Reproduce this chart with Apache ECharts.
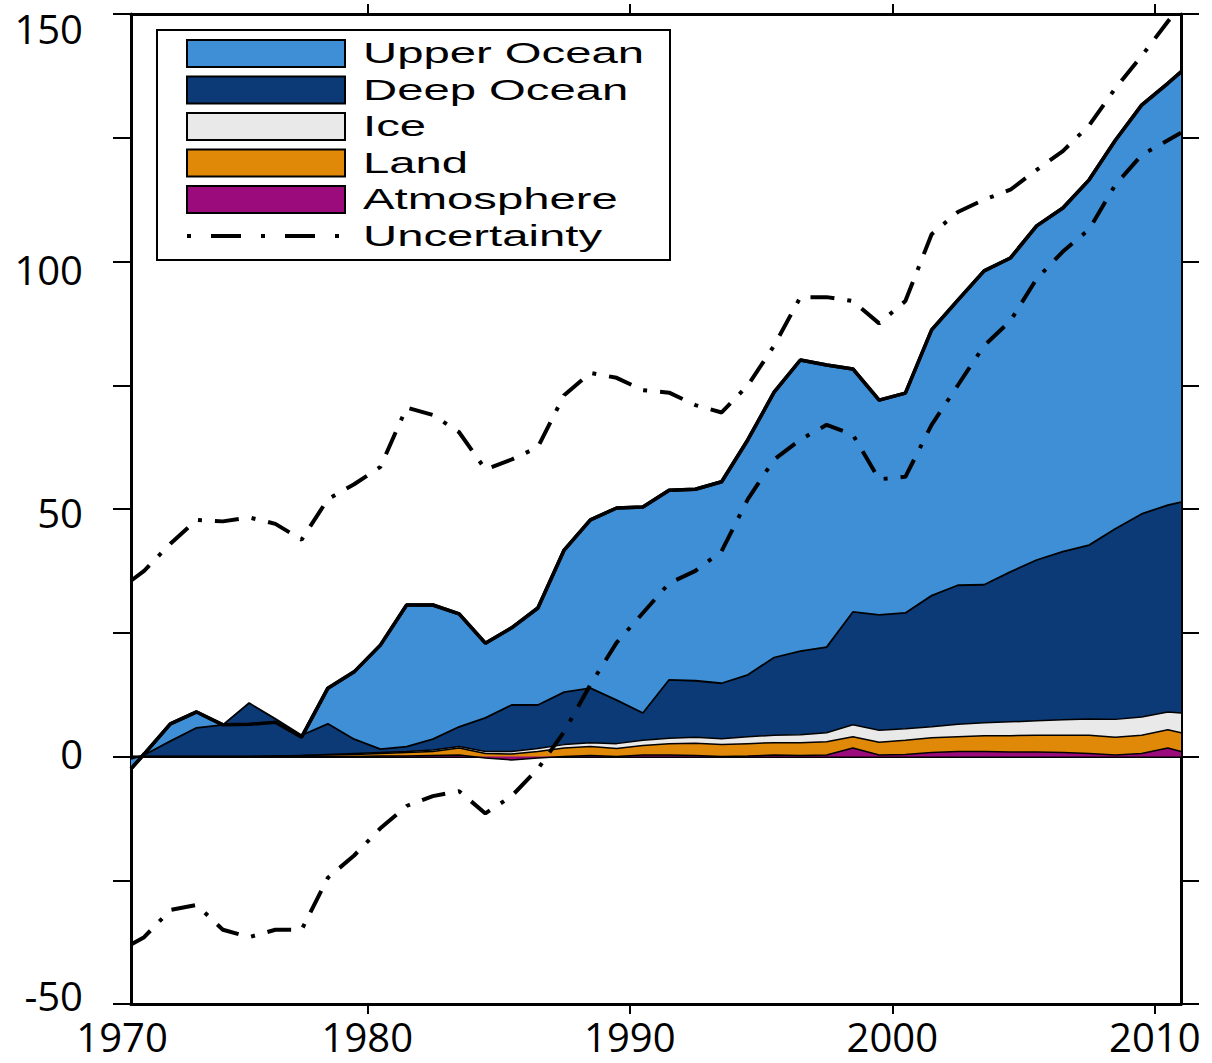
<!DOCTYPE html>
<html>
<head>
<meta charset="utf-8">
<script src="https://cdn.jsdelivr.net/npm/echarts@6/dist/echarts.min.js"></script>
<style>html,body{margin:0;padding:0;background:#fff}#c{width:1212px;height:1063px}</style>
</head>
<body>
<div id="c"></div>
<script>
// x positions (years; points at mid-year, plus both axis edges)
const years = [1971.0,1971.5,1972.5,1973.5,1974.5,1975.5,1976.5,1977.5,1978.5,1979.5,
  1980.5,1981.5,1982.5,1983.5,1984.5,1985.5,1986.5,1987.5,1988.5,1989.5,
  1990.5,1991.5,1992.5,1993.5,1994.5,1995.5,1996.5,1997.5,1998.5,1999.5,
  2000.5,2001.5,2002.5,2003.5,2004.5,2005.5,2006.5,2007.5,2008.5,2009.5,
  2010.5,2011.0];

const atmosphere = [0,0,0,0,0,0,0,0,0,0,
  0.1,0.1,0.2,0.3,-0.3,-0.7,-0.3,0,0.2,0,
  0.3,0.3,0.2,0,0.1,0.3,0.2,0.3,1.7,0.3,
  0.4,0.8,1.0,1.0,0.9,0.9,0.8,0.6,0.3,0.6,
  1.7,1.0];
const land = [0,0,0,0,0,0,0.1,0.2,0.3,0.4,
  0.5,0.7,0.8,1.4,0.9,1.2,1.3,1.7,1.8,1.6,
  1.9,2.3,2.5,2.4,2.5,2.5,2.6,2.7,2.3,2.6,
  2.9,3.0,3.0,3.2,3.3,3.4,3.5,3.7,3.6,3.7,
  3.7,3.8];
const ice = [0,0,0,0,0,0,0,0,0.1,0.2,
  0.2,0.2,0.3,0.3,0.4,0.5,0.6,0.7,0.8,1.0,
  1.1,1.1,1.2,1.2,1.4,1.5,1.6,1.8,2.4,2.4,
  2.3,2.2,2.5,2.6,2.8,2.9,3.1,3.3,3.6,3.7,
  3.6,4.0];
const deepOcean = [-0.5,0.3,3.1,5.8,6.4,10.8,7.5,4.1,6.2,2.9,
  0.7,1.0,2.2,4.0,6.8,9.4,8.8,10.6,11.0,8.8,
  5.5,11.8,11.4,11.2,12.5,15.7,16.9,17.3,22.8,23.3,
  23.4,26.5,28.1,27.9,30.3,32.5,34.0,35.1,38.5,41.0,
  41.8,42.6];
const upperOcean = [-2.0,0.2,3.5,3.2,0.0,-4.3,-0.7,-0.4,7.2,13.6,
  21.0,28.6,27.1,22.8,15.1,15.6,19.6,28.7,34.0,38.8,
  41.6,38.3,38.7,40.7,47.5,53.6,58.8,57.0,49.1,43.4,
  44.4,53.7,57.6,63.4,63.4,67.5,69.4,73.8,78.5,82.6,
  85.2,86.9];
const uncertaintyHigh = [35.5,37.5,43,47.8,47.5,48.3,47,43.8,52,55,
  58.5,70.5,69,65.5,58,60,62.5,73,77.5,76.5,
  74,73.5,71,69.5,75,83,92.8,92.8,92,87.5,
  92,105.5,110,112.5,114.5,118.5,122.3,127.5,135,141.5,
  148.5,151.5];
const uncertaintyLow = [-38,-36.5,-31,-30,-35,-36.5,-35,-35,-24.5,-20,
  -14.5,-10,-8,-7,-11.5,-8,-2.5,5,14.5,23,
  29,35,37.5,41.5,52,60,64,67,65,56,
  56.5,67,75,83,88,96.5,102,106.5,115.5,121.5,
  124.5,126];

const xTicks = [1980,1990,2000,2010];
const xLabels = [1971,1980,1990,2000,2010];
const yLabels = [-50,0,50,100,150];

const names = ['Upper Ocean','Deep Ocean','Ice','Land','Atmosphere'];
const colors = {
  'Upper Ocean':'#3f8fd6',
  'Deep Ocean':'#0b3a77',
  'Ice':'#e9e9e9',
  'Land':'#e08908',
  'Atmosphere':'#9b0b7c'
};

// value first, year second, so the heat dimension is the one that gets stacked
function rows(arr){ return years.map((x,i)=>[arr[i], x]); }
const dims = [{name:'heat', type:'float'}, {name:'year', type:'float'}];
const enc = {x:'year', y:'heat'};
const total = years.map((_,i)=>atmosphere[i]+land[i]+ice[i]+deepOcean[i]+upperOcean[i]);

const tickFont = {fontFamily:'Open Sans', fontSize:40, color:'#000'};

function areaSeries(name, arr, z, lw){
  return {
    name:name, type:'line', stack:'heat', stackStrategy:'all',
    dimensions:dims, encode:enc,
    data:rows(arr), symbol:'none', showSymbol:false, z:z, silent:true,
    lineStyle:{color:'#000', width:lw},
    itemStyle:{color:colors[name]},
    areaStyle:{color:colors[name], opacity:1},
    emphasis:{disabled:true}
  };
}
function lineSeries(name, arr, z, ls){
  return {name:name, type:'line', dimensions:dims, encode:enc, data:rows(arr),
    symbol:'none', showSymbol:false, z:z, silent:true, lineStyle:ls, emphasis:{disabled:true}};
}

const dashDot = [24,13,4,13];
const series = [
  Object.assign(areaSeries('Atmosphere', atmosphere, 6, 1.5), {
    markLine:{silent:true, symbol:'none', label:{show:false},
      lineStyle:{color:'#000', width:2, type:'solid'}, data:[{yAxis:0}]}
  }),
  areaSeries('Land', land, 5, 1.5),
  areaSeries('Ice', ice, 4, 1.5),
  areaSeries('Deep Ocean', deepOcean, 3, 1.8),
  areaSeries('Upper Ocean', upperOcean, 2, 3.5),
  lineSeries('Total', total, 7, {color:'#000', width:3.5}),
  lineSeries('Uncertainty', uncertaintyHigh, 8, {color:'#000', width:4, type:dashDot}),
  lineSeries('Uncertainty', uncertaintyLow, 8, {color:'#000', width:4, type:dashDot})
];

// legend drawn as graphic (horizontally stretched like the original)
const legendEls = [];
legendEls.push({type:'rect', shape:{x:157,y:30,width:513,height:230},
  style:{fill:'#fff', stroke:'#000', lineWidth:2}, z:100});
const rowY = [53.5, 90, 126.5, 163, 199.5, 236];
names.forEach((n,i)=>{
  legendEls.push({type:'rect', shape:{x:187,y:rowY[i]-13.5,width:158,height:27},
    style:{fill:colors[n], stroke:'#000', lineWidth:2}, z:101});
});
legendEls.push({type:'line', shape:{x1:187,y1:rowY[5],x2:345,y2:rowY[5]},
  style:{stroke:'#000', lineWidth:4, lineDash:[4,20,30,20]}, z:101});
names.concat(['Uncertainty']).forEach((n,i)=>{
  legendEls.push({type:'text', x:363, y:rowY[i], scaleX:1.63, z:102,
    style:{text:n, fontFamily:'Liberation Sans', fontSize:29, fill:'#000',
      align:'left', verticalAlign:'middle', textAlign:'left', textVerticalAlign:'middle'}});
});

const yRich = {
  p150:Object.assign({padding:[28,0,0,0]}, tickFont),
  p100:Object.assign({padding:[16,0,0,0]}, tickFont),
  p50:Object.assign({padding:[6,0,0,0]}, tickFont),
  p0:Object.assign({padding:[0,0,6,0]}, tickFont),
  pm50:Object.assign({padding:[0,0,18,0]}, tickFont)
};
const xRich = {
  first:Object.assign({padding:[0,18,0,0]}, tickFont),
  n:Object.assign({}, tickFont)
};

const option = {
  animation:false,
  backgroundColor:'#fff',
  grid:{left:131, top:14, width:1050, height:990, containLabel:false},
  xAxis:[
    {type:'value', min:1971, max:2011, position:'bottom',
      axisLine:{show:true, onZero:false, lineStyle:{color:'#000', width:3}},
      axisTick:{show:true, customValues:xTicks, length:10, inside:false, lineStyle:{color:'#000', width:2}},
      axisLabel:Object.assign({customValues:xLabels, margin:12, rich:xRich,
        formatter:v=> v===1971 ? '{first|1970}' : '{n|'+v+'}'}, tickFont),
      splitLine:{show:false}},
    {type:'value', min:1971, max:2011, position:'top',
      axisLine:{show:true, onZero:false, lineStyle:{color:'#000', width:3}},
      axisTick:{show:true, customValues:xTicks, length:10, inside:false, lineStyle:{color:'#000', width:2}},
      axisLabel:{show:false}, splitLine:{show:false}}
  ],
  yAxis:[
    {type:'value', min:-50, max:150, interval:25, position:'left',
      axisLine:{show:true, onZero:false, lineStyle:{color:'#000', width:3}},
      axisTick:{show:true, length:18, inside:false, lineStyle:{color:'#000', width:2}},
      axisLabel:Object.assign({customValues:yLabels, margin:48, rich:yRich,
        formatter:v=> '{' + (v<0 ? 'pm'+(-v) : 'p'+v) + '|' + v + '}'}, tickFont),
      splitLine:{show:false}},
    {type:'value', min:-50, max:150, interval:25, position:'right',
      axisLine:{show:true, onZero:false, lineStyle:{color:'#000', width:3}},
      axisTick:{show:true, length:18, inside:false, lineStyle:{color:'#000', width:2}},
      axisLabel:{show:false}, splitLine:{show:false}}
  ],
  graphic:{elements:legendEls},
  series:series
};

const chart = echarts.init(document.getElementById('c'), null, {renderer:'svg', width:1212, height:1063});
chart.setOption(option);
</script>
</body>
</html>
